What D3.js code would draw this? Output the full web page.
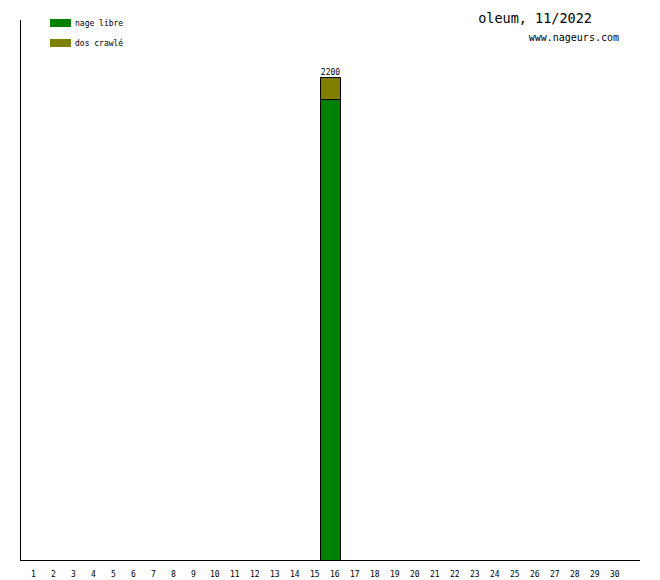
<!DOCTYPE html>
<html><head><meta charset="utf-8">
<script src="https://cdn.jsdelivr.net/npm/d3@7"></script>
<style>body{margin:0;background:#fff}svg{display:block}</style>
</head><body><svg id="c" width="660" height="580"></svg>
<script>
const days = d3.range(1, 31);
const seriesNames = ["nage libre", "dos crawlé"];
const seriesColors = ["#008000", "#808000"];
const nageLibre = days.map(d => d === 16 ? 2100 : 0);
const dosCrawle = days.map(d => d === 16 ? 100 : 0);
const title = "oleum, 11/2022";
const site = "www.nageurs.com";

const svg = d3.select("#c");
const mono = "DejaVu Sans Mono, monospace";
const x = d3.scaleBand().domain(days).range([20, 620]).padding(0);
const y = d3.scaleLinear().domain([0, 2460]).range([560, 20]);

const rows = days.map((d, i) => ({day: d, "nage libre": nageLibre[i], "dos crawlé": dosCrawle[i]}));
const stack = d3.stack().keys(seriesNames)(rows);

stack.forEach((s, si) => {
  svg.append("g").selectAll("rect").data(s.filter(p => p[1] - p[0] > 0)).join("rect")
    .attr("x", p => x(p.data.day) + 0.5)
    .attr("y", p => y(p[1]) + 0.5)
    .attr("width", x.bandwidth())
    .attr("height", p => y(p[0]) - y(p[1]))
    .attr("fill", seriesColors[si])
    .attr("stroke", "#000").attr("stroke-width", 1);
});

// totals
rows.forEach((r, i) => {
  const t = nageLibre[i] + dosCrawle[i];
  if (t > 0) svg.append("text").attr("x", x(r.day) + x.bandwidth() / 2 + 0.5).attr("y", y(t) - 2)
    .attr("text-anchor", "middle").attr("font-family", mono).attr("font-size", 8).text(t);
});

// axes
svg.append("line").attr("x1", 20.5).attr("x2", 20.5).attr("y1", 20).attr("y2", 560.5).attr("stroke", "#000");
svg.append("line").attr("x1", 20).attr("x2", 640).attr("y1", 560.5).attr("y2", 560.5).attr("stroke", "#000");

svg.append("g").selectAll("text").data(days).join("text")
  .attr("x", d => x(d) + (d < 10 ? 11 : 10))
  .attr("y", 577)
  .attr("font-family", mono).attr("font-size", 8).text(d => d);

// legend
seriesNames.forEach((n, i) => {
  svg.append("rect").attr("x", 50).attr("y", 19 + i * 20).attr("width", 21).attr("height", 8).attr("fill", seriesColors[i]);
  svg.append("text").attr("x", 75).attr("y", 26 + i * 20).attr("font-family", mono).attr("font-size", 8).text(n);
});

svg.append("text").attr("x", 592).attr("y", 23).attr("text-anchor", "end")
  .attr("font-family", mono).attr("font-size", 13.5).text(title);
svg.append("text").attr("x", 619).attr("y", 41).attr("text-anchor", "end")
  .attr("font-family", mono).attr("font-size", 10).text(site);
</script></body></html>
